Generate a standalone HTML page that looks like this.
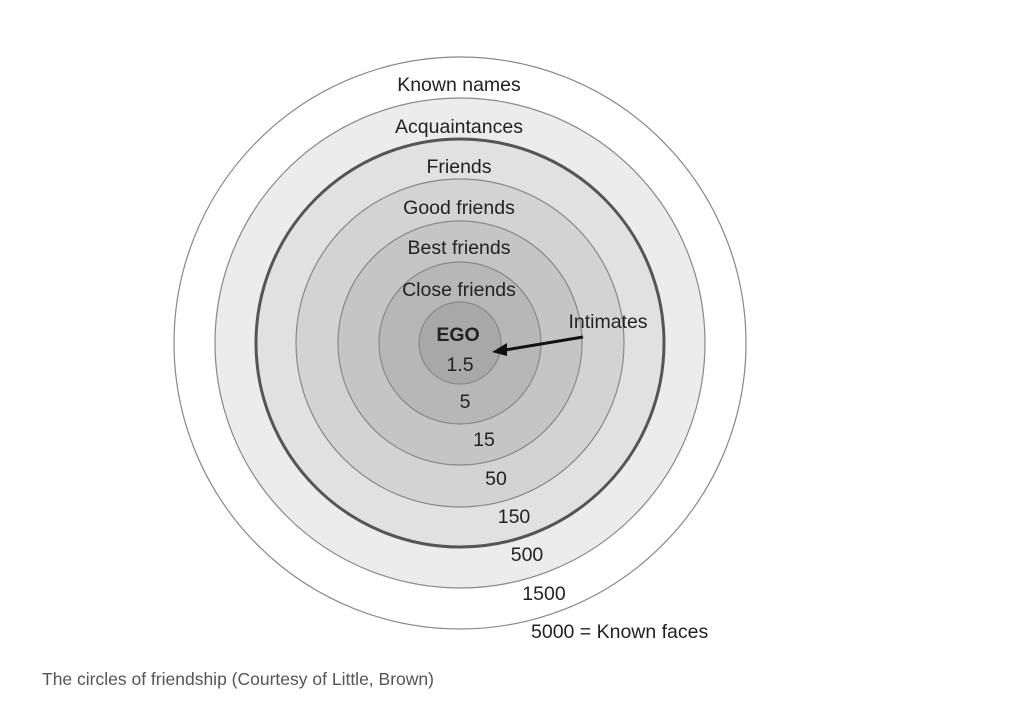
<!DOCTYPE html>
<html><head><meta charset="utf-8"><style>
body{margin:0;background:#fff;width:1031px;height:720px;overflow:hidden;}
svg{position:absolute;left:0;top:0}
.cap{position:absolute;left:42px;top:669px;font-family:"Liberation Sans",sans-serif;font-size:17.5px;color:#555;}
</style></head><body>
<svg width="1031" height="720" font-family="Liberation Sans, sans-serif" font-size="19.5" fill="#222">
<g stroke="#888" stroke-width="1.2">
<circle cx="460" cy="343" r="286" fill="#fff"/>
<circle cx="460" cy="343" r="245" fill="#ececec"/>
<circle cx="460" cy="343" r="204" fill="#e1e1e1" stroke="#555" stroke-width="3"/>
<circle cx="460" cy="343" r="164" fill="#d3d3d3"/>
<circle cx="460" cy="343" r="122" fill="#c5c5c5"/>
<circle cx="460" cy="343" r="81" fill="#b7b7b7"/>
<circle cx="460" cy="343" r="41" fill="#a8a8a8"/>
</g>
<g text-anchor="middle">
<text x="459" y="91">Known names</text>
<text x="459" y="133">Acquaintances</text>
<text x="459" y="173">Friends</text>
<text x="459" y="214">Good friends</text>
<text x="459" y="254">Best friends</text>
<text x="459" y="296">Close friends</text>
<text x="458" y="341" font-weight="bold">EGO</text>
<text x="460" y="371">1.5</text>
<text x="465" y="408">5</text>
<text x="484" y="446">15</text>
<text x="496" y="485">50</text>
<text x="514" y="523">150</text>
<text x="527" y="561">500</text>
<text x="544" y="600">1500</text>
<text x="608" y="328">Intimates</text>
</g>
<text x="531" y="638">5000 = Known faces</text>
<line x1="583" y1="337" x2="505" y2="350" stroke="#111" stroke-width="3"/>
<polygon points="492,352 507,343 507,356" fill="#111"/>
</svg>
<div class="cap">The circles of friendship (Courtesy of Little, Brown)</div>
</body></html>
